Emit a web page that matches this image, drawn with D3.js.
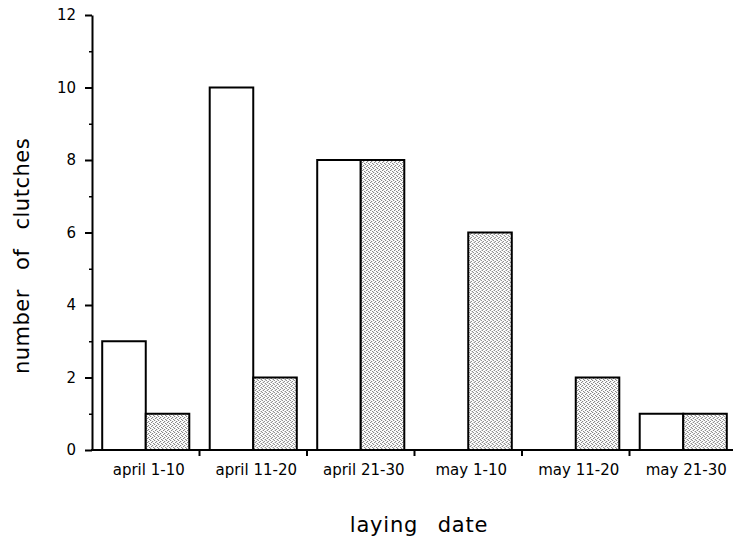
<!DOCTYPE html>
<html>
<head>
<meta charset="utf-8">
<script src="https://cdn.jsdelivr.net/npm/d3@7"></script>
<style>
  body { margin: 0; background: #fff; }
  text { font-family: "DejaVu Sans", sans-serif; fill: #000; }
</style>
</head>
<body>
<svg id="chart" width="733" height="542"></svg>
<script>
'use strict'

const categories = ['april 1-10', 'april 11-20', 'april 21-30', 'may 1-10', 'may 11-20', 'may 21-30']
const seriesNames = ['open', 'shaded']
const openValues = [3, 10, 8, 0, 0, 1] // white bars
const shadedValues = [1, 2, 8, 6, 2, 1] // stippled bars
const yTicks = [0, 2, 4, 6, 8, 10, 12]
const yMinorTicks = [1, 3, 5, 7, 9, 11]

const svg = d3.select('#chart')

// stipple fill for the second series
const pat = svg.append('defs').append('pattern')
  .attr('id', 'stipple')
  .attr('width', 4).attr('height', 4)
  .attr('patternUnits', 'userSpaceOnUse')
pat.append('rect').attr('width', 4).attr('height', 4).attr('fill', '#fff')
;[[0, 0], [2, 1], [1, 2], [3, 3]].forEach(p => {
  pat.append('rect').attr('x', p[0]).attr('y', p[1]).attr('width', 1).attr('height', 1).attr('fill', '#666')
})

const plotLeft = 92, plotTop = 15, plotBottom = 450
const x = d3.scaleBand().domain(categories).range([plotLeft, plotLeft + 6 * 107.5])
  .paddingInner(0.19).paddingOuter(0.095)
const x1 = d3.scaleBand().domain(seriesNames).range([0, x.bandwidth()])
const y = d3.scaleLinear().domain([0, 12]).range([plotBottom, plotTop])

// bars
const rows = categories.map((c, i) => ({ cat: c, open: openValues[i], shaded: shadedValues[i] }))
const g = svg.selectAll('g.grp').data(rows).enter().append('g')
  .attr('class', 'grp')
  .attr('transform', d => 'translate(' + x(d.cat) + ',0)')
g.selectAll('rect')
  .data(d => seriesNames.map(s => ({ key: s, value: d[s] })).filter(v => v.value > 0))
  .enter().append('rect')
  .attr('x', d => x1(d.key))
  .attr('y', d => y(d.value))
  .attr('width', x1.bandwidth())
  .attr('height', d => y(0) - y(d.value))
  .attr('fill', d => d.key === 'open' ? '#fff' : 'url(#stipple)')
  .attr('stroke', '#000')
  .attr('stroke-width', 2)

// y axis
const yAxis = svg.append('g').attr('transform', 'translate(' + plotLeft + ',0)')
  .call(d3.axisLeft(y).tickValues(yTicks).tickSize(7).tickSizeOuter(0).tickPadding(9))
yAxis.select('.domain').attr('stroke-width', 2)
yAxis.selectAll('.tick line').attr('stroke-width', 2)
yAxis.selectAll('.tick text').style('font-size', '15px').style('font-family', '"DejaVu Sans", sans-serif')
svg.append('g').attr('transform', 'translate(' + plotLeft + ',0)')
  .call(d3.axisLeft(y).tickValues(yMinorTicks).tickSize(3).tickFormat(''))
  .call(s => s.select('.domain').remove())
  .selectAll('.tick line').attr('stroke-width', 1.5)

// x axis with ticks at group boundaries
const step = x.step()
const xAxis = svg.append('g').attr('transform', 'translate(0,' + plotBottom + ')')
  .call(d3.axisBottom(x).tickSize(0).tickSizeOuter(0).tickPadding(14))
xAxis.select('.domain').attr('d', 'M' + (plotLeft - 1) + ',0H733').attr('stroke-width', 2)
xAxis.selectAll('.tick text')
  .attr('dx', 3)
  .style('font-size', '15px').style('font-family', '"DejaVu Sans", sans-serif')
xAxis.selectAll('line.sep').data(categories.slice(1)).enter().append('line')
  .attr('class', 'sep')
  .attr('x1', d => x(d) - x.paddingInner() * step / 2)
  .attr('x2', d => x(d) - x.paddingInner() * step / 2)
  .attr('y1', 0).attr('y2', 6)
  .attr('stroke', '#000').attr('stroke-width', 2)

// axis titles
svg.append('text')
  .attr('transform', 'translate(29,' + 256 + ') rotate(-90)')
  .attr('text-anchor', 'middle')
  .style('font-size', '21px')
  .style('letter-spacing', '0.5px')
  .style('word-spacing', '12px')
  .text('number of clutches')
svg.append('text')
  .attr('x', 419).attr('y', 532)
  .attr('text-anchor', 'middle')
  .style('font-size', '21px')
  .style('letter-spacing', '0.8px')
  .style('word-spacing', '12px')
  .text('laying date')
</script>
</body>
</html>
